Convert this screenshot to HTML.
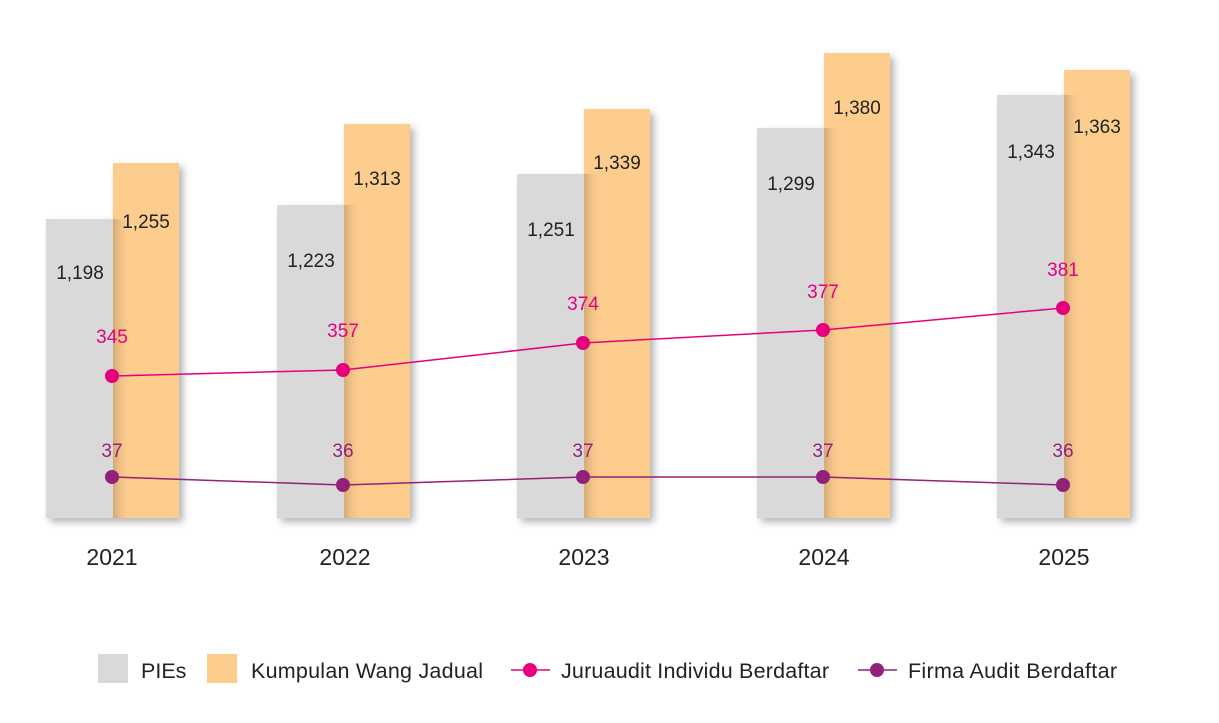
<!DOCTYPE html>
<html><head><meta charset="utf-8"><style>
body{margin:0;background:#fff;}
svg text{font-family:"Liberation Sans",sans-serif;}
</style></head><body>
<svg width="1219" height="718" xmlns="http://www.w3.org/2000/svg">
<defs>
<linearGradient id="sh" x1="0" x2="1" y1="0" y2="0">
<stop offset="0" stop-color="#c8a070" stop-opacity="0.8"/><stop offset="1" stop-color="#fdcd8e" stop-opacity="0"/>
</linearGradient>
<filter id="ds" x="-20%" y="-5%" width="150%" height="115%"><feGaussianBlur in="SourceAlpha" stdDeviation="4"/><feOffset dx="4" dy="4"/><feComponentTransfer><feFuncA type="linear" slope="0.3"/></feComponentTransfer><feMerge><feMergeNode/><feMergeNode in="SourceGraphic"/></feMerge></filter>
</defs>
<g font-size="19" fill="#222">
<g filter="url(#ds)">
<rect x="46" y="219" width="67" height="299" fill="#d9d9d9"/><rect x="113" y="163" width="66" height="355" fill="#fdcd8e"/>
<rect x="277" y="205" width="67" height="313" fill="#d9d9d9"/><rect x="344" y="124" width="66" height="394" fill="#fdcd8e"/>
<rect x="517" y="174" width="67" height="344" fill="#d9d9d9"/><rect x="584" y="109" width="66" height="409" fill="#fdcd8e"/>
<rect x="757" y="128" width="67" height="390" fill="#d9d9d9"/><rect x="824" y="53" width="66" height="465" fill="#fdcd8e"/>
<rect x="997" y="95" width="67" height="423" fill="#d9d9d9"/><rect x="1064" y="70" width="66" height="448" fill="#fdcd8e"/>
</g>
<rect x="113" y="219" width="18" height="299" fill="url(#sh)"/>
<rect x="344" y="205" width="18" height="313" fill="url(#sh)"/>
<rect x="584" y="174" width="18" height="344" fill="url(#sh)"/>
<rect x="824" y="128" width="18" height="390" fill="url(#sh)"/>
<rect x="1064" y="95" width="18" height="423" fill="url(#sh)"/>
<text x="80" y="279" text-anchor="middle">1,198</text><text x="146" y="228" text-anchor="middle">1,255</text>
<text x="311" y="267" text-anchor="middle">1,223</text><text x="377" y="185" text-anchor="middle">1,313</text>
<text x="551" y="236" text-anchor="middle">1,251</text><text x="617" y="169" text-anchor="middle">1,339</text>
<text x="791" y="190" text-anchor="middle">1,299</text><text x="857" y="114" text-anchor="middle">1,380</text>
<text x="1031" y="158" text-anchor="middle">1,343</text><text x="1097" y="133" text-anchor="middle">1,363</text>
</g>
<polyline points="112,376 343,370 583,343 823,330 1063,308" fill="none" stroke="#e6007e" stroke-width="1.5"/>
<polyline points="112,477 343,485 583,477 823,477 1063,485" fill="none" stroke="#93207a" stroke-width="1.5"/>
<g fill="#e6007e"><circle cx="112" cy="376" r="7"/><circle cx="343" cy="370" r="7"/><circle cx="583" cy="343" r="7"/><circle cx="823" cy="330" r="7"/><circle cx="1063" cy="308" r="7"/></g>
<g fill="#93207a"><circle cx="112" cy="477" r="7"/><circle cx="343" cy="485" r="7"/><circle cx="583" cy="477" r="7"/><circle cx="823" cy="477" r="7"/><circle cx="1063" cy="485" r="7"/></g>
<g font-size="19" fill="#e6007e" text-anchor="middle">
<text x="112" y="343">345</text><text x="343" y="337">357</text><text x="583" y="310">374</text><text x="823" y="298">377</text><text x="1063" y="276">381</text>
</g>
<g font-size="19" fill="#93207a" text-anchor="middle">
<text x="112" y="457">37</text><text x="343" y="457">36</text><text x="583" y="457">37</text><text x="823" y="457">37</text><text x="1063" y="457">36</text>
</g>
<g font-size="23" fill="#222" text-anchor="middle">
<text x="112" y="565">2021</text><text x="345" y="565">2022</text><text x="584" y="565">2023</text><text x="824" y="565">2024</text><text x="1064" y="565">2025</text>
</g>
<g font-size="21.5" fill="#222">
<rect x="98" y="654" width="30" height="29" fill="#d9d9d9"/><text x="141" y="678">PIEs</text>
<rect x="207" y="654" width="30" height="29" fill="#fdcd8e"/><text x="251" y="678" textLength="232">Kumpulan Wang Jadual</text>
<line x1="511" y1="670" x2="550" y2="670" stroke="#e6007e" stroke-width="1.5"/><circle cx="530" cy="670" r="7" fill="#e6007e"/><text x="561" y="678" textLength="268">Juruaudit Individu Berdaftar</text>
<line x1="858" y1="670" x2="897" y2="670" stroke="#93207a" stroke-width="1.5"/><circle cx="877" cy="670" r="7" fill="#93207a"/><text x="908" y="678" textLength="209">Firma Audit Berdaftar</text>
</g>
</svg>
</body></html>
